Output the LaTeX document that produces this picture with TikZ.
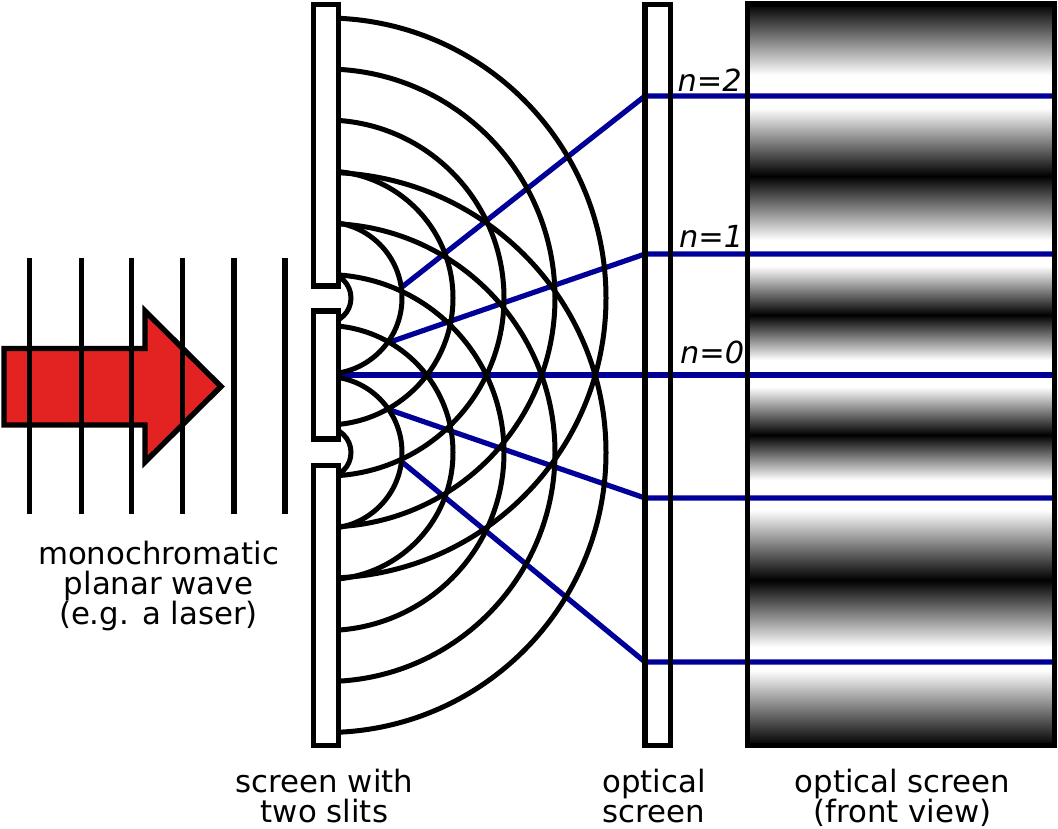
\documentclass[tikz,border=0pt]{standalone}
\usepackage{fontspec}
\setmainfont{DejaVu Sans}
\definecolor{rayblue}{RGB}{0,0,153}
\definecolor{arrowred}{RGB}{227,34,34}
\pgfdeclareverticalshading{fringe}{307pt}{
  color(0pt)=(black);
  color(75.5pt)=(white); color(98.5pt)=(white); color(165.5pt)=(black);
  color(235.5pt)=(white); color(265.5pt)=(white); color(310.5pt)=(black);
  color(358.5pt)=(white); color(385.5pt)=(white); color(430.5pt)=(black);
  color(479.5pt)=(white); color(505.5pt)=(white); color(569.5pt)=(black);
  color(637.5pt)=(white); color(670.5pt)=(white); color(741.5pt)=(black)}
\tikzset{
  every picture/.style={x=1pt,y=-1pt,line width=5pt},
  lbl/.style={inner sep=0pt,outer sep=0pt,align=center,anchor=base,font=\fontsize{30.8}{30}\selectfont},
  order/.style={inner sep=0pt,outer sep=0pt,anchor=base west,font=\fontsize{30.4}{30}\selectfont\itshape},
  ray/.style={draw=rayblue,line width=5.2pt},
  wave/.style={draw=black,line width=5.2pt},
  wavefront/.style={draw=black,line width=5pt},
  panel/.style={draw=black,line width=5.4pt,line join=miter}
}
\begin{document}
\begin{tikzpicture}
\useasboundingbox (0,0) rectangle (1058,828);
% fringes on the front-view screen
\node[inner sep=0pt,outer sep=0pt,anchor=south west] (fringes) at (747.5,745.5) {\pgfuseshading{fringe}};
% ray coordinates
\coordinate (s2) at (402,287);
\coordinate (s1) at (390,342);
\coordinate (s0) at (338,375);
\coordinate (t1) at (390,410);
\coordinate (t2) at (402,462);
\coordinate (a2) at (645,96);
\coordinate (a1) at (645,254);
\coordinate (a0) at (645,375);
\coordinate (b1) at (645,498);
\coordinate (b2) at (645,662);
\coordinate (e2) at (1052,96);
\coordinate (e1) at (1052,254);
\coordinate (e0) at (1052,375);
\coordinate (f1) at (1052,498);
\coordinate (f2) at (1052,662);
\draw[ray] (s2) -- (a2) -- (e2);
\draw[ray] (s1) -- (a1) -- (e1);
\draw[ray] (s0) -- (a0) -- (e0);
\draw[ray] (t1) -- (b1) -- (f1);
\draw[ray] (t2) -- (b2) -- (f2);
% circular wavefronts
\begin{scope}
  \clip (338,0) rectangle (1058,828);
  \foreach \r in {25,76,127,178,229,280}{
    \draw[wavefront] (326,298) circle [radius=\r];
    \draw[wavefront] (326,452.5) circle [radius=\r];
  }
\end{scope}
% screens
\draw[panel] (313.5,4.5) rectangle (338.5,286);
\draw[panel] (313.5,311) rectangle (338.5,439);
\draw[panel] (313.5,465.5) rectangle (338.5,745.5);
\draw[panel] (645,4.5) rectangle (670.5,745.5);
\draw[panel] (747.5,4) rectangle (1054.5,745.5);
% laser arrow
\draw[panel,fill=arrowred] (4,348.5) -- (145,348.5) -- (145,311) -- (221,386.5) -- (145,462) -- (145,425) -- (4,425) -- cycle;
% planar wavefronts
\foreach \x in {29.3,81.5,131.7,182.7,234,285}{
  \draw[wave] (\x,258) -- (\x,514);
}
% labels
\node[lbl] (laser) at (158.5,624) {monochromatic\\planar wave\\(e.g. a laser)};
\node[lbl] (slits) at (324.5,822) {screen with\\two slits};
\node[lbl] (optical) at (654,822) {optical\\screen};
\node[lbl] (front) at (902.5,822) {optical screen\\(front view)};
\node[order] (n2) at (677.5,91) {n=2};
\node[order] (n1) at (679,247) {n=1};
\node[order] (n0) at (680,363) {n=0};
\end{tikzpicture}
\end{document}
